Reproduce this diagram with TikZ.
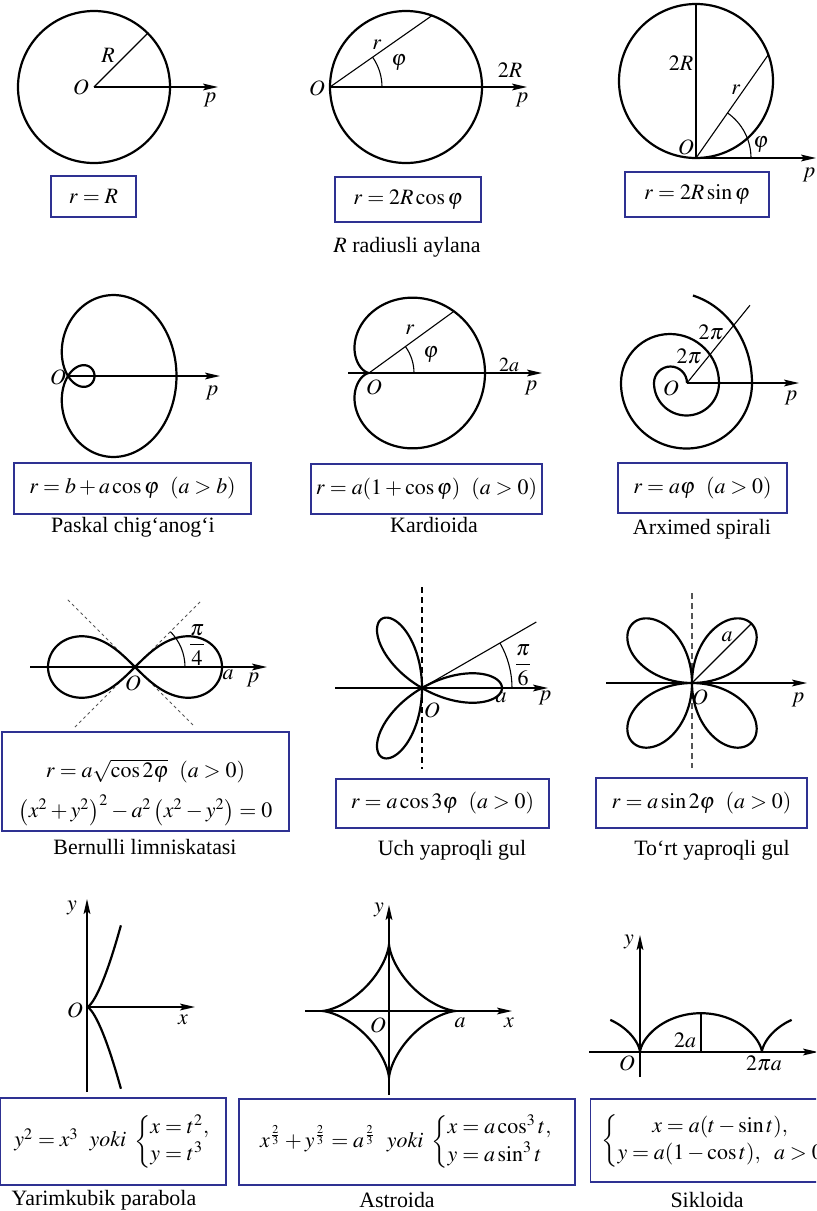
\documentclass[tikz,border=0pt,11pt]{standalone}
\usepackage{amsmath}
\usepackage{mathptmx}
\usepackage{fontspec}
\setmainfont{Liberation Serif}
\definecolor{FormulaBlue}{HTML}{2E3192}
\definecolor{GuideGray}{HTML}{555555}
\usetikzlibrary{arrows.meta,calc}
\tikzset{
  formbox/.style={draw=FormulaBlue,line width=0.6pt,inner sep=2pt,align=center},
  plotline/.style={line width=1.1pt,line join=round},
  axisarrow/.style={line width=0.8pt,-{Stealth[length=7.5pt,width=3.4pt,inset=1.5pt]}},
  thinline/.style={line width=0.55pt},
  guide/.style={line width=0.4pt,GuideGray,dash pattern=on 1.5pt off 1.5pt},
  dashline/.style={line width=0.6pt,dash pattern=on 3pt off 2pt},
  lbl/.style={inner sep=0pt},
  capt/.style={inner sep=0pt}
}

\begin{document}
\begin{tikzpicture}[x=0.5pt,y=-0.5pt]
  \clip (0,0) rectangle (816,1211);
  \coordinate (O1) at (94,87);
  \coordinate (O2) at (330,87);
  \coordinate (O3) at (696,158);
  \coordinate (O4) at (68,376);
  \coordinate (O5) at (369,373);
  \coordinate (O6) at (687,383);
  \coordinate (O7) at (135,667);
  \coordinate (O8) at (422,688);
  \coordinate (O9) at (692,683);
  \coordinate (O10) at (87,1007);
  \coordinate (O11) at (389,1011);
  \coordinate (O12) at (640,1052);

  \begin{scope}[shift={(O1)},yscale=-1]
    \draw[plotline] (0,0) circle (76);
    \draw[thinline] (0,0) -- (45:76);
    \draw[axisarrow] (0,0) -- (124,0);
  \end{scope}
  \node[lbl] (o1) at (81,87) {$O$};
  \node[lbl] (rad1) at (108,55) {$R$};
  \node[lbl] (p1) at (210,100) {$p$};
  \node[formbox,minimum width=42.5pt,minimum height=20.5pt] (f1) at (93.5,196.5) {$r = R$};

  \begin{scope}[shift={(O2)},yscale=-1]
    \draw[plotline] (76,0) circle (76);
    \draw[thinline] (0,0) -- (35:124.5);
    \draw[thinline] (52,0) arc (0:35:52);
    \draw[axisarrow] (0,0) -- (197,0);
  \end{scope}
  \node[lbl] (o2) at (317,88) {$O$};
  \node[lbl] (r2) at (377,45) {$r$};
  \node[lbl] (phi2) at (399,63) {$\varphi$};
  \node[lbl] (d2) at (510,70) {$2R$};
  \node[lbl] (p2) at (522,100) {$p$};
  \node[formbox,minimum width=73pt,minimum height=22.5pt] (f2) at (408,199.5) {$r = 2R\cos\varphi$};
  \node[capt] (cap2) at (407,247) {$R$ radiusli aylana};

  \begin{scope}[shift={(O3)},yscale=-1]
    \draw[plotline] (0,77) circle (77);
    \draw[thinline] (0,0) -- (0,154);
    \draw[thinline] (0,0) -- (55:126);
    \draw[thinline] (55,0) arc (0:55:55);
    \draw[axisarrow] (0,0) -- (120,0);
  \end{scope}
  \node[lbl] (d3) at (681,63) {$2R$};
  \node[lbl] (r3) at (736,90) {$r$};
  \node[lbl] (o3) at (686,147) {$O$};
  \node[lbl] (phi3) at (761,145) {$\varphi$};
  \node[lbl] (p3) at (809,175) {$p$};
  \node[formbox,minimum width=72pt,minimum height=22.5pt] (f3) at (697,194.5) {$r = 2R\sin\varphi$};

  \begin{scope}[shift={(O4)},yscale=-1]
    \draw[plotline,yscale=1.24] plot[domain=0:360,samples=241,smooth] (\x:{41+67.5*cos(\x)});
    \draw[axisarrow] (0,0) -- (152,0);
  \end{scope}
  \node[lbl] (o4) at (58,377) {$O$};
  \node[lbl] (p4) at (212,393) {$p$};
  \node[formbox,minimum width=118.5pt,minimum height=25.5pt] (f4) at (132.5,488.5) {$r = b + a\cos\varphi\ \ (a > b)$};
  \node[capt] (cap4) at (133,527) {Paskal chig‘anog‘i};

  \begin{scope}[shift={(O5)},yscale=-1]
    \draw[plotline] plot[domain=0:360,samples=241,smooth] (\x:{58*(1+cos(\x))});
    \draw[thinline] (0,0) -- (36:{58*(1+cos(36))});
    \draw[thinline] (45,0) arc (0:36:45);
    \draw[axisarrow] (-21,0) -- (173,0);
  \end{scope}
  \node[lbl] (r5) at (410,330) {$r$};
  \node[lbl] (phi5) at (431,355) {$\varphi$};
  \node[lbl,font=\small] (d5) at (509,365) {$2a$};
  \node[lbl] (o5) at (374,387) {$O$};
  \node[lbl] (p5) at (531,388) {$p$};
  \node[formbox,minimum width=115.5pt,minimum height=25pt] (f5) at (426.5,489) {$r = a(1+\cos\varphi)\ \ (a > 0)$};
  \node[capt] (cap5) at (434,525) {Kardioida};

  \begin{scope}[shift={(O6)},yscale=-1]
    \draw[plotline] (0,0) arc (0:180:16.5) arc (180:360:32.5) arc (0:180:49) arc (180:360:65.5)
      arc[start angle=0,end angle=74,x radius=81.5,y radius=91];
    \draw[thinline] (0,0) -- (51:100);
    \draw[axisarrow] (0,0) -- (112,0);
  \end{scope}
  \node[lbl] (t6a) at (711,332) {$2\pi$};
  \node[lbl] (t6b) at (689,356) {$2\pi$};
  \node[lbl] (o6) at (671,388) {$O$};
  \node[lbl] (p6) at (791,398) {$p$};
  \node[formbox,minimum width=84.5pt,minimum height=25pt] (f6) at (702.5,488) {$r = a\varphi\ \ (a > 0)$};
  \node[capt] (cap6) at (702,529) {Arximed spirali};

  \begin{scope}[shift={(O7)},yscale=-1]
    \draw[guide] (135:95) -- (-45:85);
    \draw[guide] (-135:85) -- (45:95);
    \draw[plotline] plot[domain=0:360,samples=181,smooth,variable=\t]
      ({87*cos(\t)/(1+sin(\t)^2)},{87*sin(\t)*cos(\t)/(1+sin(\t)^2)});
    \draw[thinline] (50,0) arc (0:45:50);
    \draw[axisarrow] (-105,0) -- (132,0);
  \end{scope}
  \node[lbl] (q7) at (197,645) {$\dfrac{\pi}{4}$};
  \node[lbl] (a7) at (228,675) {$a$};
  \node[lbl] (o7) at (133,683) {$O$};
  \node[lbl] (p7) at (253,680) {$p$};
  \node[formbox,minimum width=143.5pt,minimum height=49.5pt] (f7) at (145.5,781.5) {};
  \node[lbl] (f7a) at (145.5,771) {$r = a\sqrt{\cos 2\varphi}\ \ (a > 0)$};
  \node[lbl] (f7b) at (145.5,810) {$\left(x^2+y^2\right)^2 - a^2\left(x^2-y^2\right) = 0$};
  \node[capt] (cap7) at (145,847) {Bernulli limniskatasi};

  \begin{scope}[shift={(O8)},yscale=-1]
    \draw[dashline] (0,101) -- (0,-81);
    \draw[plotline] plot[domain=0:180,samples=241,smooth] (\x:{80*cos(3*\x)});
    \draw[thinline] (0,0) -- (30:132);
    \draw[thinline] (90,0) arc (0:30:90);
    \draw[axisarrow] (-87,0) -- (126,0);
  \end{scope}
  \node[lbl] (q8) at (523,665) {$\dfrac{\pi}{6}$};
  \node[lbl] (a8) at (501,698) {$a$};
  \node[lbl] (o8) at (432,710) {$O$};
  \node[lbl] (p8) at (545,698) {$p$};
  \node[formbox,minimum width=106.5pt,minimum height=24.5pt] (f8) at (442.5,803.5) {$r = a\cos 3\varphi\ \ (a > 0)$};
  \node[capt] (cap8) at (452,850) {Uch yaproqli gul};

  \begin{scope}[shift={(O9)},yscale=-1]
    \draw[dashline,GuideGray] (0,90) -- (0,-85);
    \draw[plotline] plot[domain=0:360,samples=361,smooth] (\x:{84*sin(2*\x)});
    \draw[thinline] (0,0) -- (45:84);
    \draw[axisarrow] (-86,0) -- (115,0);
  \end{scope}
  \node[lbl] (a9) at (727,637) {$a$};
  \node[lbl] (o9) at (700,697) {$O$};
  \node[lbl] (p9) at (798,700) {$p$};
  \node[formbox,minimum width=105.5pt,minimum height=25pt] (f9) at (701.5,803) {$r = a\sin 2\varphi\ \ (a > 0)$};
  \node[capt] (cap9) at (712,850) {To‘rt yaproqli gul};

  \begin{scope}[shift={(O10)},yscale=-1]
    \draw[axisarrow] (0,-85) -- (0,108);
    \draw[axisarrow] (0,0) -- (108,0);
    \draw[plotline] plot[domain=-2.41:2.41,samples=121,smooth,variable=\t] ({5.84*\t*\t},{5.84*\t*\t*\t});
  \end{scope}
  \node[lbl] (y10) at (72,908) {$y$};
  \node[lbl] (o10) at (75,1010) {$O$};
  \node[lbl] (x10) at (183,1020) {$x$};
  \node[formbox,minimum width=113pt,minimum height=43.5pt] (f10) at (113,1141.5)
    {$y^2 = x^3\ \ \mathit{yoki}\ \left\{\begin{array}{@{}l@{}} x = t^2,\\ y = t^3\end{array}\right.$};
  \node[capt] (cap10) at (104,1200) {Yarimkubik parabola};

  \begin{scope}[shift={(O11)},yscale=-1]
    \draw[axisarrow] (-84,0) -- (123,0);
    \draw[axisarrow] (0,-84) -- (0,106);
    \draw[plotline] plot[domain=0:360,samples=361,variable=\t]
      ({67*cos(\t)*cos(\t)*cos(\t)},{67*sin(\t)*sin(\t)*sin(\t)}) -- cycle;
  \end{scope}
  \node[lbl] (y11) at (379,910) {$y$};
  \node[lbl] (o11) at (378,1025) {$O$};
  \node[lbl] (a11) at (460,1023) {$a$};
  \node[lbl] (x11) at (509,1023) {$x$};
  \node[formbox,minimum width=168pt,minimum height=43pt] (f11) at (407,1142)
    {$x^{\frac{2}{3}} + y^{\frac{2}{3}} = a^{\frac{2}{3}}\ \ \mathit{yoki}\ \left\{\begin{array}{@{}l@{}} x = a\cos^3 t,\\ y = a\sin^3 t\end{array}\right.$};
  \node[capt] (cap11) at (397,1200) {Astroida};

  \begin{scope}[shift={(O12)},yscale=-1]
    \draw[axisarrow] (-51,0) -- (178,0);
    \draw[axisarrow] (0,-25) -- (0,117);
    \draw[plotline] plot[domain=-131:491,samples=250,variable=\t] ({19.4*(rad(\t)-sin(\t))},{19.4*(1-cos(\t))});
    \draw[thinline] (61,0) -- (61,38.8);
  \end{scope}
  \node[lbl] (y12) at (629,942) {$y$};
  \node[lbl] (d12) at (685,1040) {$2a$};
  \node[lbl] (o12) at (627,1063) {$O$};
  \node[lbl] (e12) at (764,1063) {$2\pi a$};
  \node[formbox,minimum width=122.5pt,minimum height=41.5pt,anchor=west] (f12) at (590,1140.5)
    {$\left\{\begin{array}{@{}c@{}} x = a(t-\sin t),\\ y = a(1-\cos t),\ \ a > 0\end{array}\right.$};
  \node[capt] (cap12) at (707,1200) {Sikloida};
\end{tikzpicture}
\end{document}
